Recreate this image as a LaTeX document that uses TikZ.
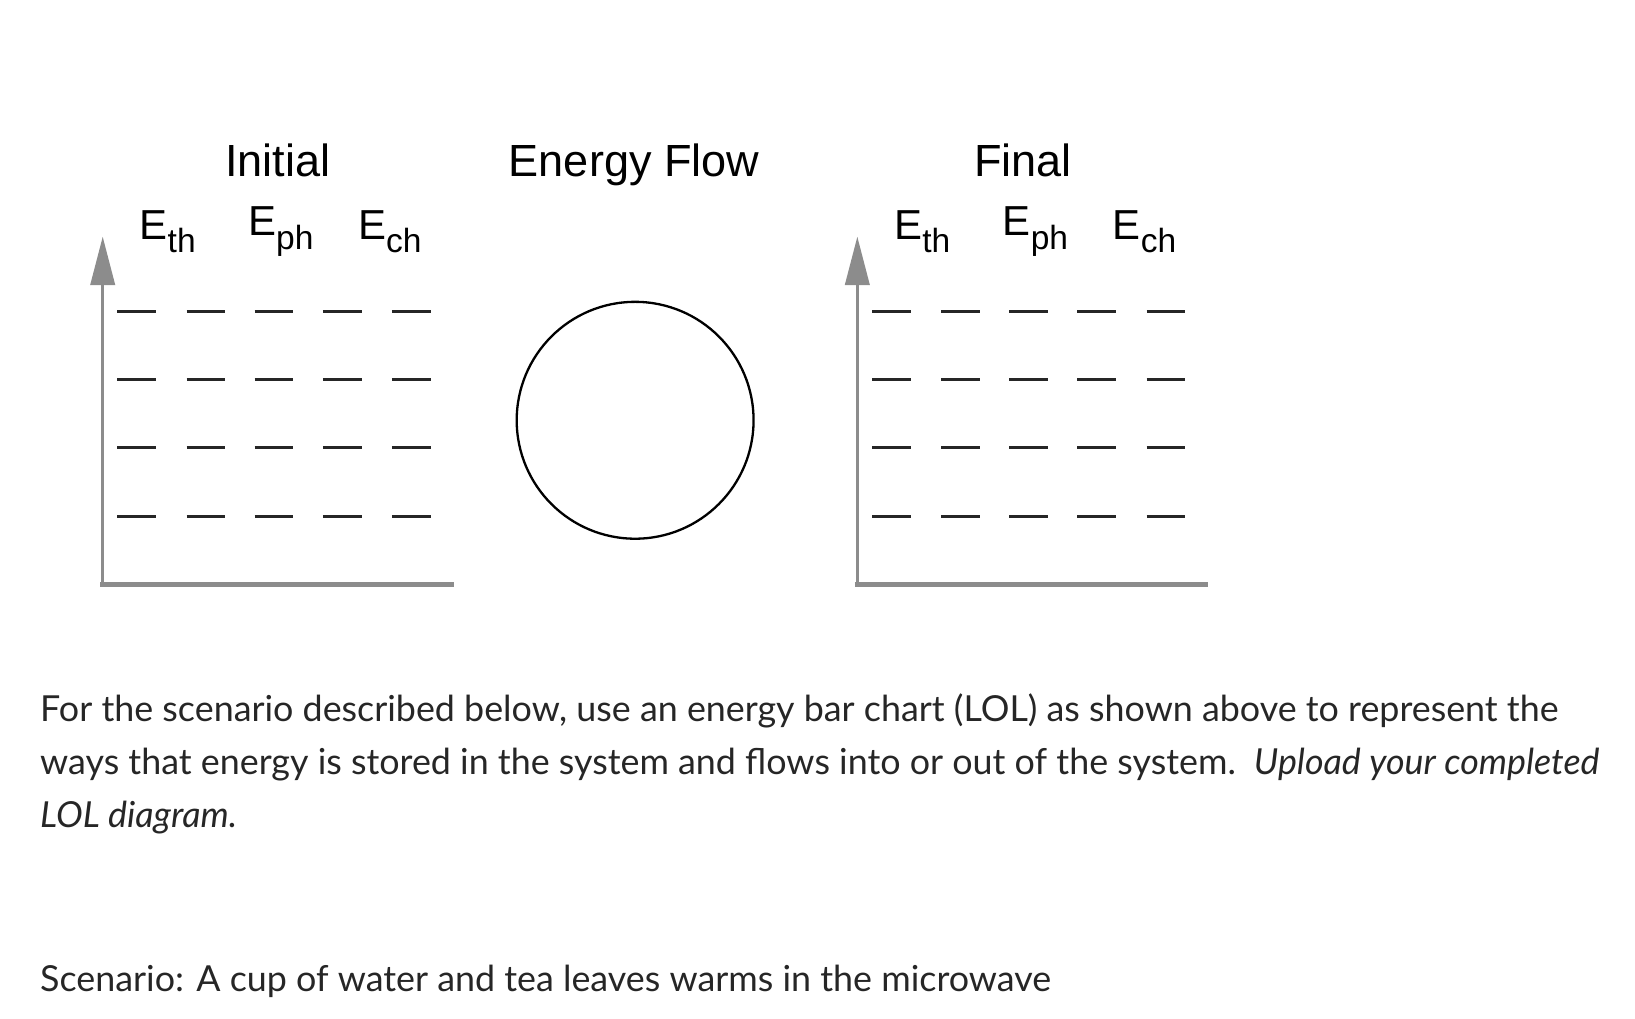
\documentclass[tikz,border=0pt]{standalone}
\usepackage{fontspec}
\setmainfont{Lato}
\newfontfamily\arialf{Liberation Sans}
\begin{document}
\begin{tikzpicture}[x=0.5pt,y=-0.5pt,
  lab/.style={font=\arialf\fontsize{21.5}{24}\selectfont, inner sep=0pt},
  elab/.style={font=\arialf\fontsize{20}{22}\selectfont, inner sep=0pt},
  axisv/.style={draw=gray!90, line width=1.7pt},
  axish/.style={draw=gray!90, line width=2.5pt},
  dsh/.style={draw=black!85, line width=1.6pt},
  body/.style={font=\fontsize{17.1}{25}\selectfont, anchor=base west, inner sep=0pt, text=black!85}]
\useasboundingbox (0,0) rectangle (1560,972);
\foreach \ox/\nm/\tt/\tx in {0/ini/Initial/265, 720/fin/Final/976}{
  \node[lab] (\nm t) at (\tx,153) {\tt};
  \coordinate (\nm o) at (98+\ox,558);
  \coordinate (\nm top) at (98+\ox,226);
  \coordinate (\nm r) at (433+\ox,558);
  \fill[gray!90] (\nm top) -- ++(-12,46) -- ++(24,0) -- cycle;
  \draw[axisv] (\nm o) -- ++(0,-300);
  \draw[axish] ([xshift=-1.2]\nm o) -- (\nm r);
  \node[elab] (\nm a) at (160+\ox,221) {E\raisebox{-0.6ex}{\fontsize{16}{16}\selectfont th}};
  \node[elab] (\nm b) at (268+\ox,221) {E\raisebox{-0.6ex}{\fontsize{16}{16}\selectfont ph}};
  \node[elab] (\nm c) at (372+\ox,221) {E\raisebox{-0.6ex}{\fontsize{16}{16}\selectfont ch}};
  \foreach \y in {297,362,427,493}{
    \foreach \x in {112,178,243,308,374}{
      \draw[dsh] (\x+\ox,\y) -- ++(37,0);
    }
  }
}
\node[lab] (flow) at (605,157) {Energy Flow};
\node[draw, circle, minimum size=113pt, line width=1.1pt, inner sep=0pt] (circ) at (606,401) {};
\node[body] (l1) at (38,688) {For the scenario described below, use an energy bar chart (LOL) as shown above to represent the};
\node[body] (l2) at (38,739) {ways that energy is stored in the system and flows into or out of the system.\ \ \textit{Upload your completed}};
\node[body] (l3) at (38,790) {\textit{LOL diagram.}};
\node[body] (l4) at (38,946) {Scenario: A cup of water and tea leaves warms in the microwave};
\end{tikzpicture}
\end{document}
